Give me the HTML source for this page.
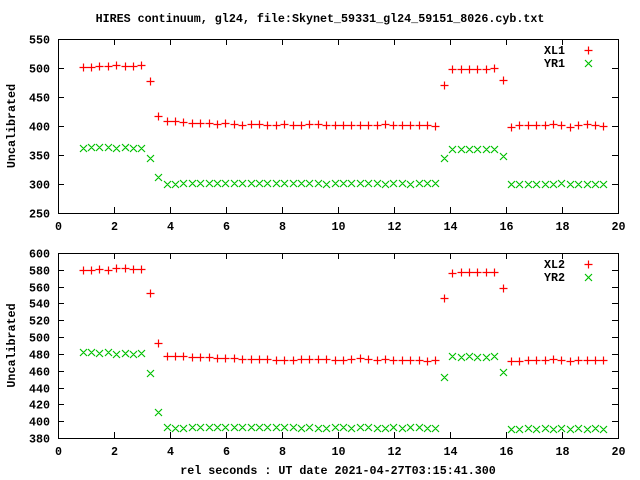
<!DOCTYPE html>
<html><head><meta charset="utf-8"><style>
html,body{margin:0;padding:0;background:#fff;}
svg{display:block;}
text{font-family:"Liberation Mono",monospace;font-weight:bold;font-size:11.7px;fill:#000;}
</style></head><body>
<svg id="chart" width="640" height="480" viewBox="0 0 640 480" xmlns="http://www.w3.org/2000/svg">
<text x="320" y="22" text-anchor="middle">HIRES continuum, gl24, file:Skynet_59331_gl24_59151_8026.cyb.txt</text>
<text x="338" y="474" text-anchor="middle">rel seconds : UT date 2021-04-27T03:15:41.300</text>
</svg>
<script>
const times = [0.88,1.18,1.48,1.78,2.08,2.38,2.68,2.98,3.28,3.58,3.88,4.18,4.48,4.78,5.08,5.38,5.68,5.98,6.28,6.58,6.88,7.18,7.48,7.78,8.08,8.38,8.68,8.98,9.28,9.58,9.88,10.18,10.48,10.78,11.08,11.38,11.68,11.98,12.28,12.58,12.88,13.18,13.48,13.78,14.08,14.38,14.68,14.98,15.28,15.58,15.88,16.18,16.48,16.78,17.08,17.38,17.68,17.98,18.28,18.58,18.88,19.18,19.48];
const xl1 = [501,501,503,503,505,503,503,505,477,418,409,409,407,405,405,405,404,405,404,402,403,404,402,401,403,402,401,403,403,401,402,402,402,401,402,401,403,401,402,401,402,401,400,470,498,498,498,498,498,500,480,399,401,401,401,401,403,402,399,401,403,401,400];
const yr1 = [362,363,363,363,362,363,362,362,344,312,300,300,301,301,301,301,301,301,301,301,301,301,301,301,301,301,301,301,301,300,301,301,301,301,301,301,300,301,301,300,301,301,301,344,361,361,361,361,361,361,348,300,300,300,300,300,300,301,300,300,300,300,300];
const xl2 = [580,580,581,580,582,582,581,581,552,493,478,477,477,476,476,476,475,475,475,474,474,474,474,473,473,473,474,474,474,474,473,473,474,475,474,473,474,473,473,473,473,472,473,547,576,577,577,577,577,578,558,472,472,473,473,473,474,473,472,473,473,473,473];
const yr2 = [482,482,481,482,480,481,480,481,457,411,393,392,392,393,393,393,393,393,393,393,393,393,393,393,393,393,392,393,392,392,393,393,392,393,393,392,392,393,392,393,393,392,392,453,477,476,478,476,476,477,458,391,391,392,391,392,391,392,391,392,391,392,391];
const xTicks = [0,2,4,6,8,10,12,14,16,18,20];
const yTicks1 = [250,300,350,400,450,500,550];
const yTicks2 = [380,400,420,440,460,480,500,520,540,560,580,600];

const NS = "http://www.w3.org/2000/svg";
const svg = document.getElementById('chart');
function mk(tag, attrs, parent){const e=document.createElementNS(NS,tag);for(const k in attrs)e.setAttribute(k,attrs[k]);(parent||svg).appendChild(e);return e;}

function panel(cfg){
  const L=58,R=618,T=cfg.top,B=cfg.bottom;
  const sx=v=>L+(v-0)/(20-0)*(R-L);
  const sy=v=>B-(v-cfg.ymin)/(cfg.ymax-cfg.ymin)*(B-T);
  const g=mk('g',{});
  
  
  const fr=mk('rect',{x:L+0.5,y:T+0.5,width:R-L,height:B-T,fill:'none',stroke:'#000','stroke-width':1},g);
  
  
  let d='';
  cfg.yTicks.forEach(v=>{const y=Math.round(sy(v))+0.5;d+=`M${L} ${y}h6M${R} ${y}h-6`;
    const t=mk('text',{x:50,y:y+4,'text-anchor':'end'},g);t.textContent=v;
    
    });
  xTicks.forEach(v=>{const x=Math.round(sx(v))+0.5;d+=`M${x} ${B}v-6M${x} ${T}v6`;
    const t=mk('text',{x:x,y:B+17,'text-anchor':'middle'},g);t.textContent=v;
    
    });
  const tk=mk('path',{d:d,stroke:'#000','stroke-width':1,fill:'none'},g);
  
  
  const yl=mk('text',{x:0,y:0,'text-anchor':'middle',transform:`translate(15,${(T+B)/2}) rotate(-90)`},g);
  yl.textContent='Uncalibrated';
  
  
  function plus(x,y){return `M${x-4} ${y}h8M${x} ${y-4}v8`;}
  function cross(x,y){return `M${x-3.5} ${y-3.5}l7 7M${x-3.5} ${y+3.5}l7 -7`;}
  let pr='',pg='';
  times.forEach((t,i)=>{const x=Math.round(sx(t))+0.5;pr+=plus(x,Math.round(sy(cfg.s1[i]))+0.5);pg+=cross(x,Math.round(sy(cfg.s2[i]))+0.5);});
  const p1=mk('path',{d:pr,stroke:'#ff0000','stroke-width':1.2,fill:'none'},g);
  
  
  const p2=mk('path',{d:pg,stroke:'#00c000','stroke-width':1.2,fill:'none'},g);
  
  
  // legend
  const ly1=T+11, ly2=T+24;
  const t1=mk('text',{x:565,y:ly1+4,'text-anchor':'end'},g);t1.textContent=cfg.l1;
  
  
  const t2=mk('text',{x:565,y:ly2+4,'text-anchor':'end'},g);t2.textContent=cfg.l2;
  
  
  const m1=mk('path',{d:plus(588.5,ly1+0.5),stroke:'#ff0000','stroke-width':1.2,fill:'none'},g);
  
  
  const m2=mk('path',{d:cross(588.5,ly2+0.5),stroke:'#00c000','stroke-width':1.2,fill:'none'},g);
  
  
}
panel({name:'top-panel',top:39,bottom:213,ymin:250,ymax:550,yTicks:yTicks1,s1:xl1,s2:yr1,l1:'XL1',l2:'YR1'});
panel({name:'bottom-panel',top:253,bottom:438,ymin:380,ymax:600,yTicks:yTicks2,s1:xl2,s2:yr2,l1:'XL2',l2:'YR2'});
</script>
</body></html>
